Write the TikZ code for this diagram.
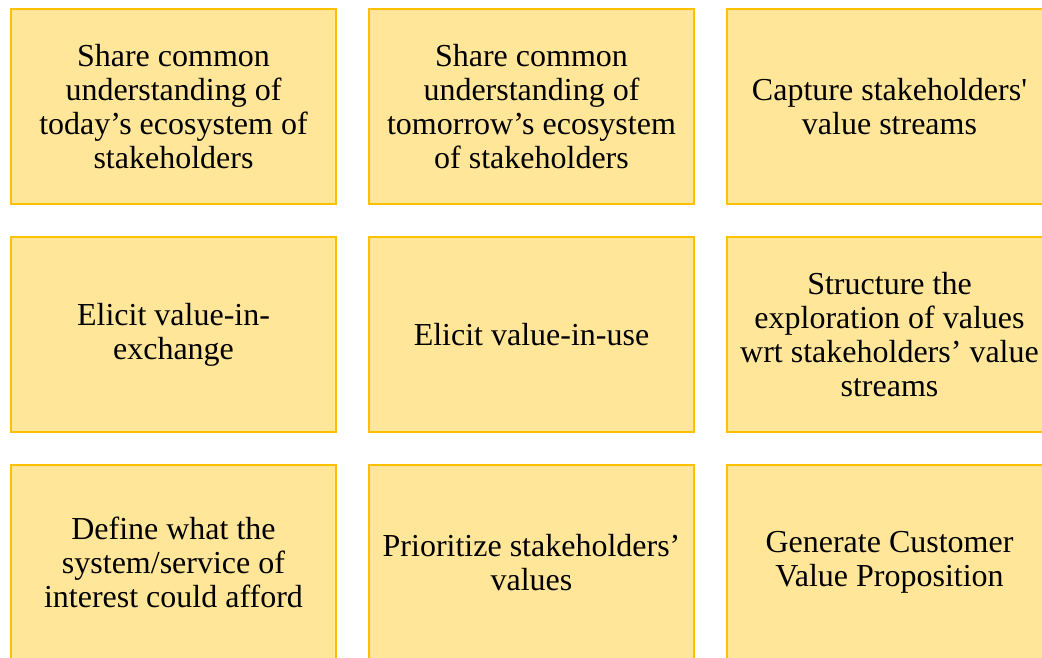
\documentclass[tikz,border=0pt]{standalone}
\usepackage{fontspec}
\setmainfont{Liberation Serif}[Ligatures=TeXOff]
\usepackage{xcolor}
\usetikzlibrary{positioning}

\definecolor{cardfill}{HTML}{FFE699}
\definecolor{carddraw}{HTML}{FFC000}

\begin{document}
\begin{tikzpicture}[
  font=\fontsize{32}{34}\selectfont,
  node distance=33pt and 33pt,
  card/.style={draw=carddraw, fill=cardfill, line width=2pt, align=center,
               minimum width=325pt, minimum height=195pt, outer sep=0pt,
               inner sep=0pt}
]
\useasboundingbox (0,0) rectangle (1042pt,-657pt);
\node[card, anchor=north west] (today) at (11pt,-9pt)
  {Share common\\understanding of\\today’s ecosystem of\\stakeholders};
\node[card, right=of today] (tomorrow)
  {Share common\\understanding of\\tomorrow’s ecosystem\\of stakeholders};
\node[card, right=of tomorrow] (streams)
  {Capture stakeholders'\\value streams};
\node[card, below=of today] (exchange) {Elicit value-in-\\exchange};
\node[card, below=of tomorrow] (inuse) {Elicit value-in-use};
\node[card, below=of streams] (explore)
  {Structure the\\exploration of values\\wrt stakeholders’ value\\streams};
\node[card, below=of exchange] (afford)
  {Define what the\\system/service of\\interest could afford};
\node[card, below=of inuse] (prioritize) {Prioritize stakeholders’\\values};
\node[card, below=of explore] (proposition)
  {Generate Customer\\Value Proposition};
\end{tikzpicture}
\end{document}
